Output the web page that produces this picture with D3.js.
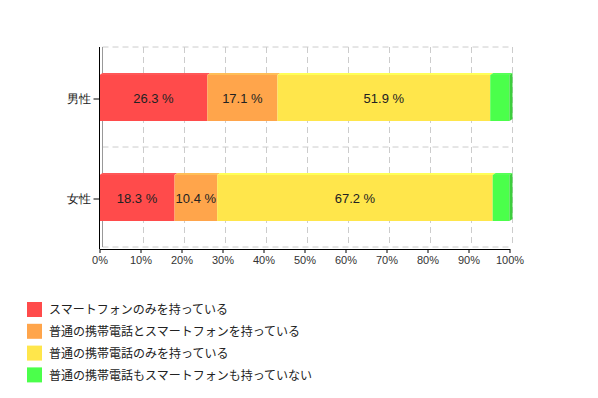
<!DOCTYPE html>
<html>
<head>
<meta charset="utf-8">
<script src="https://cdn.jsdelivr.net/npm/d3@7"></script>
<style>
  body { margin: 0; background: #fff; }
  svg { font-family: "Liberation Sans", Arial, "Noto Sans CJK JP", sans-serif; }
</style>
</head>
<body>
<svg id="chart" width="598" height="398"></svg>
<script>
const categories = ['男性', '女性'];
const seriesNames = [
  'スマートフォンのみを持っている',
  '普通の携帯電話とスマートフォンを持っている',
  '普通の携帯電話のみを持っている',
  '普通の携帯電話もスマートフォンも持っていない'
];
const colors = ['#ff4b4b', '#ffa54b', '#ffe64b', '#4bff4b'];
const values = [
  [26.3, 17.1, 51.9, 4.7],
  [18.3, 10.4, 67.2, 4.1]
];
const xTicks = d3.range(0, 101, 10);

const svg = d3.select('#chart');
const plotLeft = 99.5, plotRight = 509.5, plotTop = 49, plotBottom = 249;
const dx = 3, dy = -2; // depth offset

const x = d3.scaleLinear().domain([0, 100]).range([plotLeft, plotRight]);
const y = d3.scaleBand().domain(categories).range([plotTop, plotBottom]);

// back wall grid
const grid = svg.append('g')
  .attr('stroke', '#ccc')
  .attr('stroke-dasharray', '6,4');
grid.selectAll('line.v')
  .data(xTicks.slice(1))
  .enter().append('line')
  .attr('x1', d => x(d) + dx).attr('x2', d => x(d) + dx)
  .attr('y1', plotTop + dy).attr('y2', plotBottom + dy);
grid.selectAll('line.h')
  .data([plotTop, plotTop + y.step(), plotBottom])
  .enter().append('line')
  .attr('x1', plotLeft + dx).attr('x2', plotRight + dx)
  .attr('y1', d => d + dy).attr('y2', d => d + dy);
svg.append('line')
  .attr('x1', plotLeft + dx).attr('x2', plotLeft + dx)
  .attr('y1', plotTop + dy).attr('y2', plotBottom + dy)
  .attr('stroke', '#999');

// bars
const barH = 46;
const rows = svg.append('g').selectAll('g')
  .data(categories)
  .enter().append('g');

rows.each(function (cat, ci) {
  const g = d3.select(this);
  let acc = 0;
  const segs = values[ci].map((v, si) => {
    const s = { v, si, x0: acc, x1: acc + v };
    acc += v;
    return s;
  });
  const y0 = y(cat) + y.bandwidth() / 2 - 1 - barH / 2;
  segs.forEach(s => {
    const xa = x(s.x0), xb = x(s.x1);
    const c = d3.color(colors[s.si]);
    // top face
    g.append('path')
      .attr('d', `M${xa},${y0}L${xa + dx},${y0 + dy}L${xb + dx},${y0 + dy}L${xb},${y0}Z`)
      .attr('fill', c.brighter(0.4));
    g.append('rect')
      .attr('x', xa).attr('y', y0)
      .attr('width', xb - xa).attr('height', barH)
      .attr('fill', colors[s.si]);
  });
  // right side face
  const last = segs[segs.length - 1];
  const xe = x(last.x1);
  g.append('path')
    .attr('d', `M${xe},${y0}L${xe + dx},${y0 + dy}L${xe + dx},${y0 + barH + dy}L${xe},${y0 + barH}Z`)
    .attr('fill', d3.color(colors[last.si]).darker(0.6));
  // labels
  g.selectAll('text')
    .data(segs.filter(s => s.v >= 8))
    .enter().append('text')
    .attr('x', s => (x(s.x0) + x(s.x1)) / 2)
    .attr('y', y0 + barH / 2)
    .attr('dy', '0.35em')
    .attr('text-anchor', 'middle')
    .attr('font-size', 13)
    .attr('fill', '#222')
    .text(s => s.v.toFixed(1) + ' %');
});

// axes
const xAxis = svg.append('g')
  .attr('transform', `translate(0,${plotBottom})`)
  .call(d3.axisBottom(x).tickValues(xTicks).tickFormat(d => d + '%').tickSize(4).tickSizeOuter(0));
xAxis.select('.domain').attr('stroke', '#000');
xAxis.selectAll('text').attr('font-size', 11).attr('fill', '#333').attr('font-family', null);

const yAxis = svg.append('g')
  .attr('transform', `translate(${plotLeft},0)`)
  .call(d3.axisLeft(y).tickSize(6).tickSizeOuter(0).tickPadding(3));
yAxis.selectAll('.tick').attr('transform', d => `translate(0,${y(d) + y.bandwidth() / 2})`);
yAxis.select('.domain').attr('stroke', '#000').attr('d', `M0,${plotTop - 2}V${plotBottom}`);
yAxis.selectAll('text').attr('font-size', 12).attr('fill', '#222').attr('font-family', null);

// legend
const legend = svg.append('g').attr('transform', 'translate(27,302)');
const item = legend.selectAll('g')
  .data(seriesNames)
  .enter().append('g')
  .attr('transform', (d, i) => `translate(0,${i * 21.8})`);
item.append('rect')
  .attr('width', 15).attr('height', 15)
  .attr('fill', (d, i) => colors[i]);
item.append('text')
  .attr('x', 22).attr('y', 8)
  .attr('dy', '0.35em')
  .attr('font-size', 12)
  .attr('fill', '#222')
  .text(d => d);
</script>
</body>
</html>
